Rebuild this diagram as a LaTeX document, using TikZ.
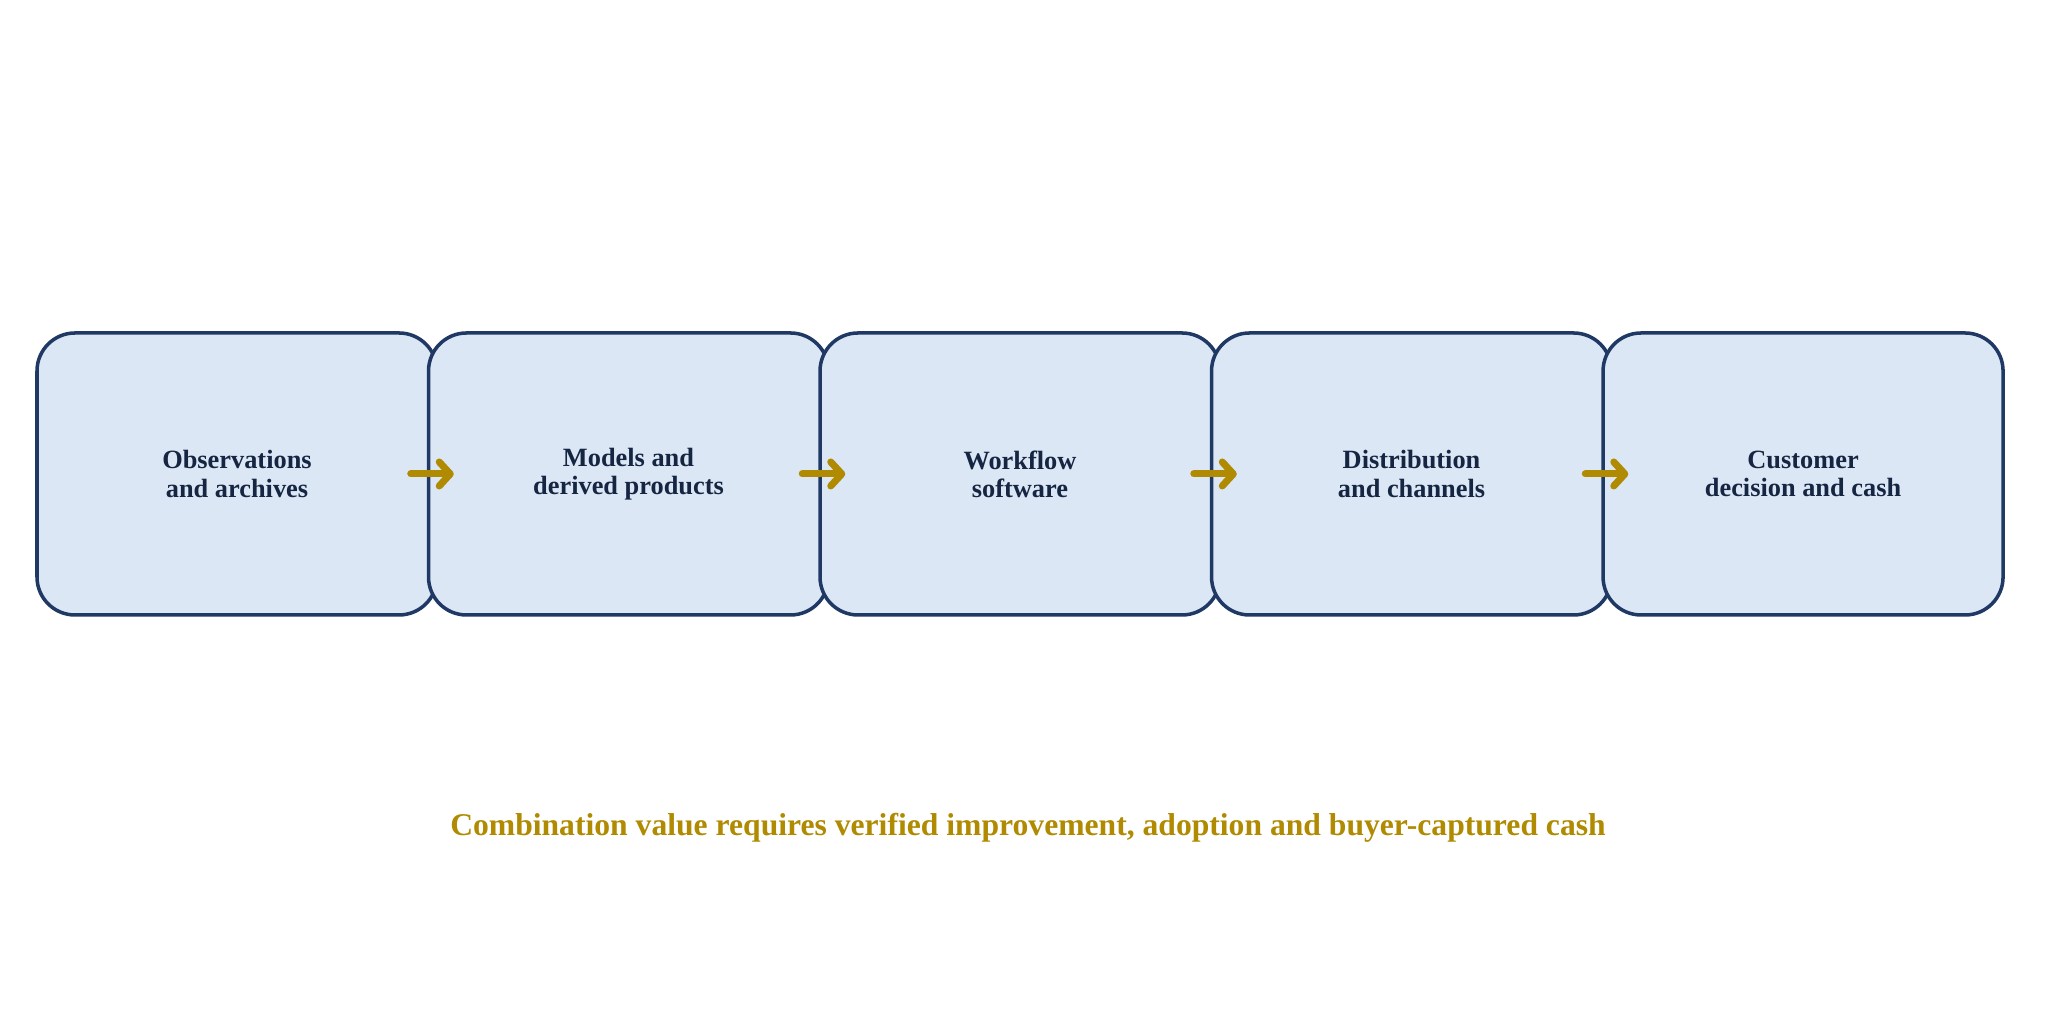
\documentclass[tikz,border=0pt]{standalone}
\usepackage{fontspec}
\setmainfont{Liberation Serif}
\usetikzlibrary{positioning, arrows.meta}
\definecolor{azul}{RGB}{31, 56, 100}
\definecolor{tinta}{RGB}{22, 38, 66}
\definecolor{claro}{RGB}{220, 231, 245}
\definecolor{oro}{RGB}{176, 138, 0}
\tikzset{
    etapa/.style={draw=azul, fill=claro, rounded corners=0.38cm, line width=1pt,
                  minimum width=4.0cm, minimum height=2.82cm, align=center,
                  text=tinta, font=\fontsize{7.5}{8}\selectfont\bfseries},
    flecha/.style={-{Straight Barb[round, length=1.1mm, width=2.4mm]}, oro, line width=2pt, line cap=round},
}
\begin{document}
\begin{tikzpicture}
    \useasboundingbox (0,0) rectangle (20.46,10.34);
    \node [etapa] (obs) at (2.37,5.60) {Observations\\and archives};
    \node [etapa, right=-0.12cm of obs] (mod) {Models and\\derived products};
    \node [etapa, right=-0.12cm of mod] (wf) {Workflow\\software};
    \node [etapa, right=-0.12cm of wf] (dist) {Distribution\\and channels};
    \node [etapa, right=-0.12cm of dist] (cust) {Customer\\decision and cash};

    \draw[flecha] ([xshift=-0.28cm]obs.east) -- ([xshift=0.27cm]mod.west);
    \draw[flecha] ([xshift=-0.28cm]mod.east) -- ([xshift=0.27cm]wf.west);
    \draw[flecha] ([xshift=-0.28cm]wf.east) -- ([xshift=0.27cm]dist.west);
    \draw[flecha] ([xshift=-0.28cm]dist.east) -- ([xshift=0.27cm]cust.west);

    \node [text=oro, font=\fontsize{9}{11}\selectfont\bfseries] (lema) at (10.28,2.06)
        {Combination value requires verified improvement, adoption and buyer-captured cash};
\end{tikzpicture}
\end{document}
